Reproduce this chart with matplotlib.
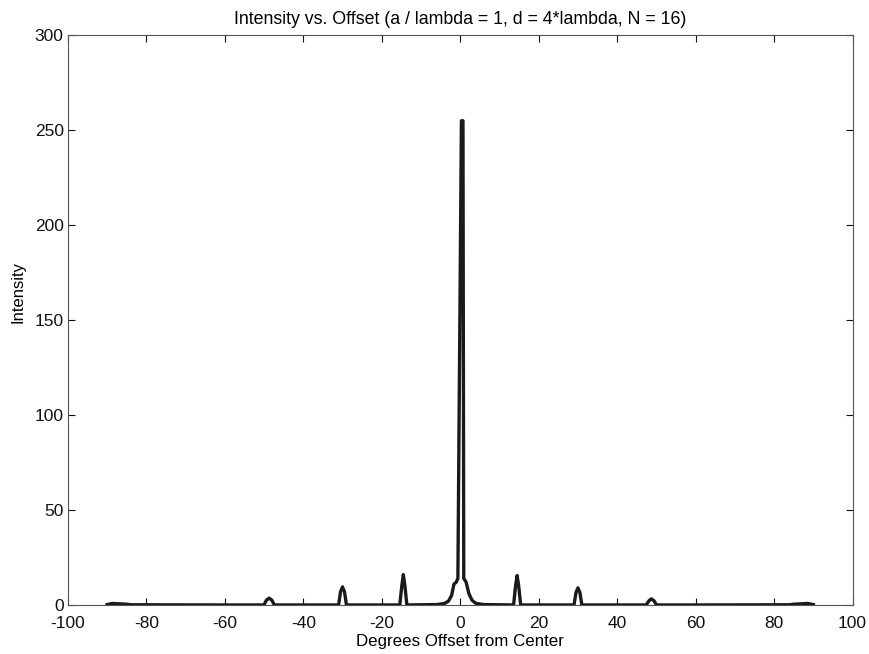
import matplotlib
matplotlib.use("Agg")
import matplotlib.pyplot as plt

# curve (degrees, intensity)
offset = [-90, -88.5, -87, -85, -84, -60,
          -50.0, -49.4, -48.7, -48.0, -47.4,
          -31.0, -30.5, -30.0, -29.5, -29.0,
          -15.4, -14.9, -14.5, -14.1, -13.6,
          -6, -4, -3, -2.2, -1.6, -1.0, -0.6,
          0.3, 0.7, 0.9,
          1.5, 2.2, 3.0, 4, 6,
          13.6, 14.1, 14.5, 14.9, 15.4,
          29.0, 29.5, 30.0, 30.5, 31.0,
          47.4, 48.1, 48.7, 49.4, 50.0,
          60, 84, 85, 87, 88.5, 90]
intensity = [0.2, 0.8, 0.6, 0.4, 0.1, 0.0,
             0.0, 2.5, 3.6, 2.5, 0.0,
             0.0, 7.0, 9.5, 7.0, 0.0,
             0.0, 10.0, 16.0, 10.0, 0.0,
             0.2, 0.8, 2.0, 5.0, 11.0, 12.0, 14.0,
             255.0, 255.0, 14.0,
             12.0, 6.0, 2.5, 0.8, 0.2,
             0.0, 10.0, 15.5, 10.0, 0.0,
             0.0, 6.5, 9.0, 6.5, 0.0,
             0.0, 2.2, 3.2, 2.2, 0.0,
             0.0, 0.1, 0.4, 0.6, 0.8, 0.2]

xticks = list(range(-100, 101, 20))
yticks = list(range(0, 301, 50))

plt.rcParams['font.family'] = ['Liberation Sans', 'DejaVu Sans']
plt.rcParams['axes.unicode_minus'] = False

fig = plt.figure(figsize=(8.7, 6.54), dpi=100)
ax = fig.add_axes([0.078, 0.075, 0.902, 0.871])
ax.plot(offset, intensity, color='#1a1a1a', linewidth=2.4)

ax.set_xlim(-100, 100)
ax.set_ylim(0, 300)
ax.set_xticks(xticks)
ax.set_yticks(yticks)
ax.tick_params(direction='in', top=True, right=True, length=5, width=0.8,
               labelsize=12.5, colors='#111111')
ax.tick_params(axis='x', pad=8)
ax.tick_params(axis='y', pad=3)
for s in ax.spines.values():
    s.set_linewidth(0.8)
    s.set_color('#555555')

ax.set_title('Intensity vs. Offset (a / lambda = 1, d = 4*lambda, N = 16)',
             fontsize=12.8, pad=8)
ax.set_xlabel('Degrees Offset from Center', fontsize=12.2, labelpad=2)
ax.set_ylabel('Intensity', fontsize=12)
ax.yaxis.set_label_coords(-0.054, 0.55)

fig.savefig('out.png', dpi=100)
